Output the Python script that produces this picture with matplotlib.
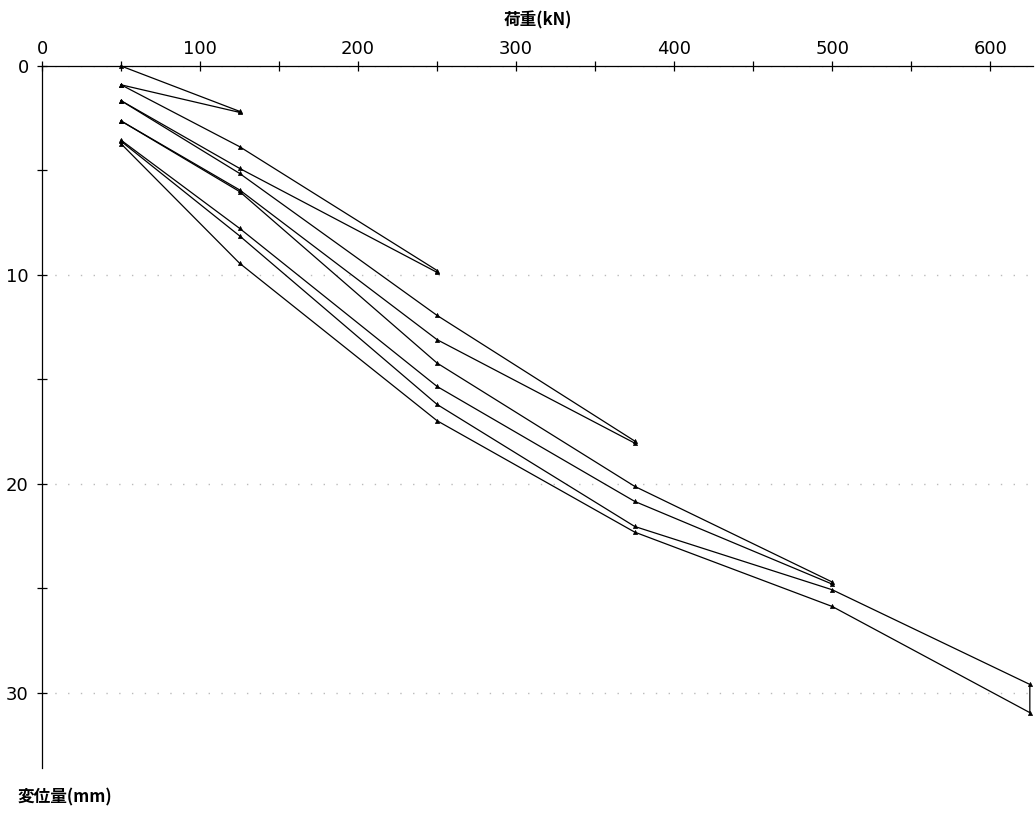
import matplotlib
matplotlib.use("Agg")
import matplotlib.pyplot as plt
from matplotlib.ticker import MultipleLocator

plt.rcParams["font.family"] = ["Noto Sans CJK JP", "DejaVu Sans"]

# load cycles: load (kN) vs displacement (mm)
cycle1_load = [50, 125, 125, 50]
cycle1_disp = [0.0, 2.17, 2.22, 0.90]

cycle2_load = [50, 125, 250, 250, 125, 50]
cycle2_disp = [0.90, 3.86, 9.79, 9.88, 4.90, 1.66]

cycle3_load = [50, 125, 250, 375, 375, 250, 125, 50]
cycle3_disp = [1.66, 5.14, 11.94, 17.95, 18.05, 13.10, 5.93, 2.63]

cycle4_load = [50, 125, 250, 375, 500, 500, 375, 250, 125, 50]
cycle4_disp = [2.63, 6.01, 14.22, 20.12, 24.70, 24.80, 20.84, 15.34, 7.77, 3.55]

cycle5_load = [50, 125, 250, 375, 500, 625, 625, 500, 375, 250, 125, 50]
cycle5_disp = [3.60, 8.13, 16.20, 22.04, 25.07, 29.60, 30.95, 25.87, 22.31, 16.98, 9.44, 3.72]

cycles = [
    (cycle1_load, cycle1_disp),
    (cycle2_load, cycle2_disp),
    (cycle3_load, cycle3_disp),
    (cycle4_load, cycle4_disp),
    (cycle5_load, cycle5_disp),
]

fig = plt.figure(figsize=(10.35, 8.13), dpi=100)
ax = fig.add_axes([42 / 1035, 45 / 813, 991 / 1035, 702 / 813])

for load, disp in cycles:
    ax.plot(load, disp, color="black", lw=0.9, marker="^", ms=3,
            markerfacecolor="black", markeredgewidth=0.5, clip_on=False)

ax.set_xlim(0, 627)
ax.set_ylim(33.6, 0)

ax.xaxis.tick_top()
ax.xaxis.set_major_locator(MultipleLocator(100))
ax.xaxis.set_minor_locator(MultipleLocator(50))
ax.yaxis.set_major_locator(MultipleLocator(10))
ax.yaxis.set_minor_locator(MultipleLocator(5))
ax.tick_params(which="both", direction="inout", length=7, width=0.9,
               colors="black")
ax.tick_params(axis="x", which="both", pad=2)
ax.tick_params(axis="y", which="both", pad=6)
for lbl in ax.get_xticklabels() + ax.get_yticklabels():
    lbl.set_family("DejaVu Sans")
    lbl.set_fontsize(13)
    lbl.set_fontweight("medium")

for side in ("right", "bottom"):
    ax.spines[side].set_visible(False)
for side in ("top", "left"):
    ax.spines[side].set_linewidth(0.9)

ax.yaxis.grid(True, which="major", color="#bbbbbb", lw=1.0,
              linestyle=(0, (1, 8.2)))
ax.set_axisbelow(True)

fig.text(538 / 1035, 1 - 20 / 813, "荷重(kN)", ha="center", va="center",
         fontsize=12, fontweight="bold")
fig.text(18 / 1035, 1 - 797 / 813, "変位量(mm)", ha="left", va="center",
         fontsize=12, fontweight="bold")

fig.savefig("out.png", dpi=100)
